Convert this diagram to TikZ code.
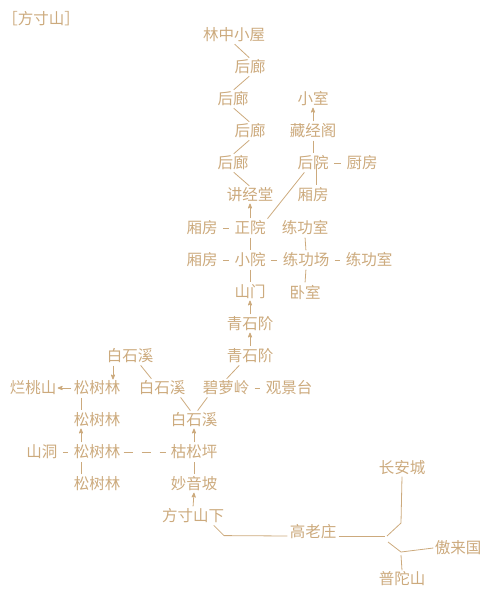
\documentclass[tikz,border=0pt]{standalone}
\usepackage{fontspec}
\newfontfamily\cjk{Noto Sans CJK SC}
\usetikzlibrary{arrows}
\definecolor{sand}{RGB}{204,170,125}

\begin{document}
\begin{tikzpicture}[x=1pt,y=-1pt,>=stealth',line width=0.8pt,
  place/.style={font=\cjk\fontsize{15.5}{16}\selectfont,text=sand,inner sep=1pt},
  link/.style={draw=sand,-,shorten <=1pt,shorten >=1pt},
  arrow/.style={draw=sand,->,shorten <=1pt},
  dashlink/.style={draw=sand,-,shorten <=4pt,shorten >=4pt}]
  \useasboundingbox (0,0) rectangle (488,603);
  \node[place] (title) at (41,19) {［方寸山］};
  % houshan
  \node[place] (lzxw) at (234,35) {林中小屋};
  \node[place] (hl1) at (250,67) {后廊};
  \node[place] (hl2) at (233,99) {后廊};
  \node[place] (xs) at (313,99) {小室};
  \node[place] (hl3) at (250,131) {后廊};
  \node[place] (cjg) at (313,131) {藏经阁};
  \node[place] (hl4) at (233,163) {后廊};
  \node[place] (hy) at (313,163) {后院};
  \node[place] (cf) at (362,163) {厨房};
  \node[place] (jjt) at (250,195) {讲经堂};
  \node[place] (xf1) at (313,195) {厢房};
  \node[place] (xf2) at (202,228) {厢房};
  \node[place] (zy) at (250,228) {正院};
  \node[place] (lgs1) at (305,228) {练功室};
  \node[place] (xf3) at (202,260) {厢房};
  \node[place] (xy) at (250,260) {小院};
  \node[place] (lgc) at (306,260) {练功场};
  \node[place] (lgs2) at (369,260) {练功室};
  \node[place] (sm) at (250,292) {山门};
  \node[place] (ws) at (305,292) {卧室};
  \node[place] (qsj1) at (250,324) {青石阶};
  \node[place] (qsj2) at (250,356) {青石阶};
  % shanxia
  \node[place] (bsx1) at (130,356) {白石溪};
  \node[place] (lts) at (33,388) {烂桃山};
  \node[place] (sl1) at (97,388) {松树林};
  \node[place] (bsx2) at (162,388) {白石溪};
  \node[place] (bll) at (226,388) {碧萝岭};
  \node[place] (gjt) at (289,388) {观景台};
  \node[place] (bsx3) at (194,420) {白石溪};
  \node[place] (sl2) at (97,420) {松树林};
  \node[place] (sd) at (42,452) {山洞};
  \node[place] (sl3) at (97,452) {松树林};
  \node[place] (ksp) at (194,452) {枯松坪};
  \node[place] (sl4) at (97,484) {松树林};
  \node[place] (myp) at (194,484) {妙音坡};
  \node[place] (fcsx) at (193,516) {方寸山下};
  \node[place] (glz) at (313,532) {高老庄};
  \node[place] (cac) at (402,468) {长安城};
  \node[place] (alg) at (458,548) {傲来国};
  \node[place] (pts) at (402,579) {普陀山};
  \coordinate (fork) at (386,536);
  \coordinate (forkb) at (388,542);
  \coordinate (fup) at (401,523);
  \coordinate (fdn) at (401,552);

  \draw[link] (lzxw.south) -- (hl1.north);
  \draw[link] (hl1.south) -- (hl2.north);
  \draw[link] (hl2.south) -- (hl3.north);
  \draw[link] (hl3.south) -- (hl4.north);
  \draw[link] (hl4.south) -- (jjt.north);
  \draw[arrow] (cjg.north) -- (xs.south);
  \draw[link] (cjg.south) -- (hy.north);
  \draw[dashlink] (hy) -- (cf);
  \draw[link] ([xshift=3pt]hy.center) -- ([xshift=3pt]xf1.north);
  \draw[link] ([xshift=-8pt]hy.south) -- (zy.north east);
  \draw[arrow] (zy.north) -- (jjt.south);
  \draw[dashlink] (xf2) -- (zy);
  \draw[link] (zy.south) -- (xy.north);
  \draw[link] (lgs1.south) -- (lgc.north);
  \draw[dashlink] (xf3) -- (xy);
  \draw[dashlink] (xy) -- (lgc);
  \draw[dashlink] (lgc) -- (lgs2);
  \draw[link] (xy.south) -- (sm.north);
  \draw[link] (lgc.south) -- (ws.north);
  \draw[arrow] (qsj1.north) -- (sm.south);
  \draw[arrow] (qsj2.north) -- (qsj1.south);
  \draw[link] (bll.north) -- ([xshift=-10pt]qsj2.south);
  \draw[dashlink] (bll) -- (gjt);
  \draw[link] ([xshift=10pt]bsx1.south) -- ([xshift=-10pt]bsx2.north);
  \draw[arrow] ([xshift=-17pt]bsx1.south) -- ([xshift=-17pt]bsx1.south |- sl1.north);
  \draw[arrow] (sl1.west) -- (lts.east);
  \draw[link] ([xshift=-16pt]sl1.south) -- ([xshift=-16pt]sl2.north);
  \draw[link] ([xshift=18pt]bsx2.south) -- ([xshift=-3pt]bsx3.north);
  \draw[link] ([xshift=-18pt]bll.south) -- ([xshift=3pt]bsx3.north);
  \draw[arrow] ([xshift=-16pt]sl3.north) -- ([xshift=-16pt]sl2.south);
  \draw[arrow] (ksp.north) -- (bsx3.south);
  \draw[dashlink] (sd) -- (sl3);
  \draw[draw=sand,dash pattern=on 9pt off 9pt,shorten <=2pt,shorten >=3pt] (sl3) -- (ksp);
  \draw[link] ([xshift=-16pt]sl4.north) -- ([xshift=-16pt]sl3.south);
  \draw[link] (myp.north) -- (ksp.south);
  \draw[arrow] (fcsx.north) -- (myp.south);
  % lu
  \draw[link] ([xshift=20pt]fcsx.south) -- ++(11,11) -- ([yshift=-4pt]glz.west);
  \draw[link] ([yshift=-4pt]glz.east) -- (fork);
  \draw[draw=sand] ([xshift=1pt]fork) -- (fup) -- (cac.south);
  \draw[draw=sand] (forkb) -- (fdn) -- (alg.west);
  \draw[draw=sand] ([yshift=-3pt]fdn) -- (pts.north);
\end{tikzpicture}
\end{document}
